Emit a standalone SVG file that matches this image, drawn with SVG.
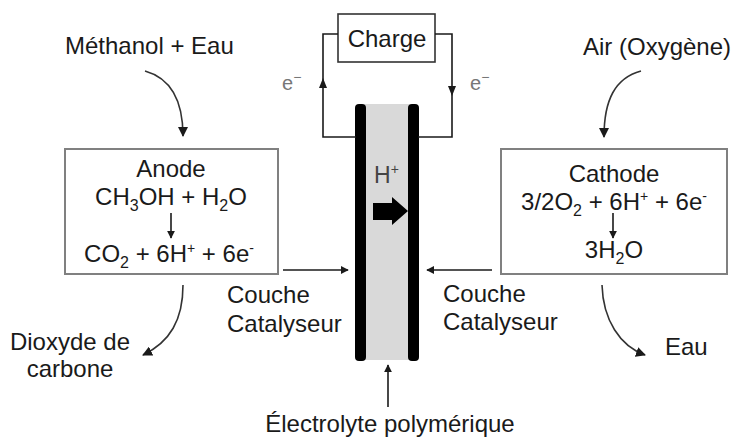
<svg xmlns="http://www.w3.org/2000/svg" width="731" height="439" viewBox="0 0 731 439">
<defs>
<style>
text{font-family:"Liberation Sans",Arial,sans-serif;font-size:24px;fill:#1a1a1a}
.box{fill:#fff;stroke:#808080;stroke-width:2}
.ln{fill:none;stroke:#1a1a1a;stroke-width:1.6}
.cv{fill:none;stroke:#333;stroke-width:1.6}
.el{fill:#777}
.sub{font-size:16px}
.sup{font-size:14px}
</style>
<marker id="ah" viewBox="0 0 10 10" refX="9" refY="5" markerWidth="8" markerHeight="8" markerUnits="userSpaceOnUse" orient="auto"><path d="M0,0 L10,5 L0,10 z" fill="#1a1a1a"/></marker>
<marker id="ah2" viewBox="0 0 10 10" refX="9" refY="5" markerWidth="10" markerHeight="10" markerUnits="userSpaceOnUse" orient="auto"><path d="M0,0 L10,5 L0,10 z" fill="#1a1a1a"/></marker>
</defs>
<rect width="731" height="439" fill="#fff"/>

<g id="membrane">
<rect x="364" y="104" width="46" height="256" fill="#d9d9d9"/>
<rect x="355" y="104" width="11" height="257" rx="4" fill="#000"/>
<rect x="408" y="104" width="11" height="257" rx="4" fill="#000"/>
<text x="374" y="183" style="font-size:23px;fill:#444">H<tspan class="sup" dy="-9">+</tspan></text>
<path d="M373,203 L392,203 L392,197 L408,211 L392,225 L392,220 L373,220 z" fill="#000"/>
</g>

<g id="charge">
<rect x="338" y="14" width="97" height="48" fill="#fff" stroke="#333" stroke-width="1.6"/>
<text x="387" y="47" text-anchor="middle">Charge</text>
</g>

<g id="anode">
<rect class="box" x="65" y="149" width="213" height="125"/>
<text x="171" y="177" text-anchor="middle">Anode</text>
<text x="171" y="205" text-anchor="middle">CH<tspan class="sub" dy="6">3</tspan><tspan dy="-6">OH + H</tspan><tspan class="sub" dy="6">2</tspan><tspan dy="-6">O</tspan></text>
<text x="169" y="262" text-anchor="middle">CO<tspan class="sub" dy="6">2</tspan><tspan dy="-6"> + 6H</tspan><tspan class="sup" dy="-9">+</tspan><tspan dy="9"> + 6e</tspan><tspan class="sup" dy="-9">-</tspan></text>
</g>

<g id="cathode">
<rect class="box" x="501" y="149" width="226" height="125"/>
<text x="614" y="182" text-anchor="middle">Cathode</text>
<text x="614" y="210" text-anchor="middle">3/2O<tspan class="sub" dy="6">2</tspan><tspan dy="-6"> + 6H</tspan><tspan class="sup" dy="-9">+</tspan><tspan dy="9"> + 6e</tspan><tspan class="sup" dy="-9">-</tspan></text>
<text x="614" y="258" text-anchor="middle">3H<tspan class="sub" dy="6">2</tspan><tspan dy="-6">O</tspan></text>
</g>

<g id="labels">
<text x="65" y="54">Méthanol + Eau</text>
<text x="583" y="55">Air (Oxygène)</text>
<text x="227" y="303">Couche</text>
<text x="227" y="332">Catalyseur</text>
<text x="443" y="302">Couche</text>
<text x="443" y="330">Catalyseur</text>
<text x="70" y="350" text-anchor="middle">Dioxyde de</text>
<text x="70" y="377" text-anchor="middle">carbone</text>
<text x="665" y="355">Eau</text>
<text x="390" y="432" text-anchor="middle">Électrolyte polymérique</text>
<text class="el" x="282" y="90" style="font-size:20px">e<tspan class="sup" dy="-8">−</tspan></text>
<text class="el" x="470" y="90" style="font-size:20px">e<tspan class="sup" dy="-8">−</tspan></text>
</g>

<g id="connectors">
<path class="ln" d="M356,137 L323,137 L323,34 L338,34"/>
<path class="ln" d="M418,137 L452,137 L452,34 L435,34"/>
<path d="M323,78 L319,88 L327,88 z" fill="#1a1a1a"/>
<path d="M452,96 L448,86 L456,86 z" fill="#1a1a1a"/>
<path class="cv" d="M145,71 C170,78 183,100 183,136" marker-end="url(#ah2)"/>
<path class="cv" d="M641,71 C615,78 604,100 604,137" marker-end="url(#ah2)"/>
<path class="cv" d="M183,285 C183,320 170,342 143,355" marker-end="url(#ah2)"/>
<path class="cv" d="M602,285 C603,320 620,346 645,355" marker-end="url(#ah2)"/>
<path class="ln" d="M171,213 L171,238" marker-end="url(#ah)"/>
<path class="ln" d="M613,213 L613,238" marker-end="url(#ah)"/>
<path class="ln" d="M283,270 L348,270" marker-end="url(#ah)"/>
<path class="ln" d="M492,270 L427,270" marker-end="url(#ah)"/>
<path class="ln" d="M388,407 L388,365" marker-end="url(#ah)"/>
</g>
</svg>
